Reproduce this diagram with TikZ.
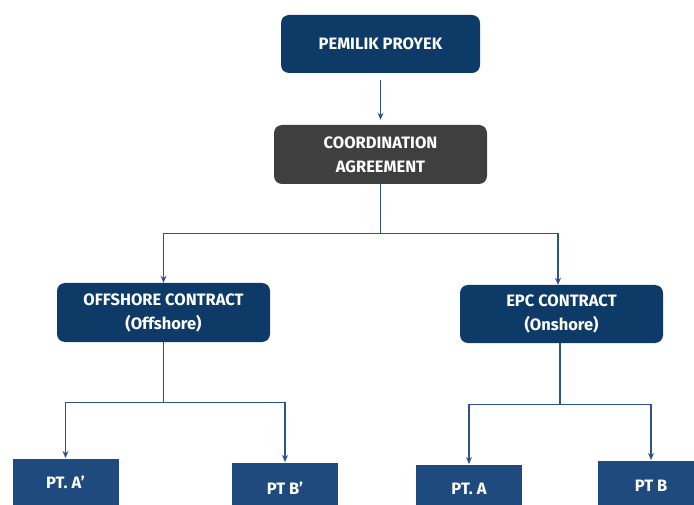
\documentclass[tikz,border=0pt]{standalone}
\usepackage{fontspec}
\setmainfont{Fira Sans}
\usepackage{xcolor}
\usepackage{tikz}
\usetikzlibrary{arrows.meta}
\definecolor{owner}{HTML}{0E3A68}
\definecolor{agree}{HTML}{3F3F3F}
\definecolor{party}{HTML}{1E4A7E}
\definecolor{wire}{HTML}{2E5487}
\tikzset{
  % node options
  box/.style={draw=none,text=white,inner sep=0pt,align=center,
    font=\bfseries\fontsize{16.5}{24}\selectfont},
  head/.style={box,fill=owner,rounded corners=8pt},
  coordbox/.style={box,fill=agree,rounded corners=8pt},
  contract/.style={head},
  party/.style={box,fill=party,minimum width=106pt,minimum height=48pt},
  % path options
  link/.style={wire,line width=1.2pt},
  flow/.style={link,-{Stealth[length=7pt,width=6pt]}},
}

\begin{document}
\begin{tikzpicture}[x=1pt,y=-1pt]
  \useasboundingbox (0,0) rectangle (694,505);
  \clip (0,0) rectangle (694,505);
  \node[head,minimum width=199pt,minimum height=58pt] (owner) at (380.5,44) {PEMILIK PROYEK};
  \node[coordbox,minimum width=213pt,minimum height=59pt] (coord) at (380.5,154.5) {COORDINATION\\AGREEMENT};
  \node[contract,minimum width=213pt,minimum height=59pt] (offshore) at (163.5,312.5) {OFFSHORE CONTRACT\\(Offshore)};
  \node[contract,minimum width=203pt,minimum height=58pt] (epc) at (561.5,314) {EPC CONTRACT\\(Onshore)};
  % the PT boxes run off the bottom edge
  \node[party,anchor=north,minimum height=46pt] (ptAp) at (65.5,459) {PT. A'};
  \node[party,anchor=north,minimum height=50pt] (ptBp) at (285,463) {PT B'};
  \node[party,anchor=north] (ptA) at (469,465) {PT. A};
  \node[party,anchor=north,minimum height=50pt] (ptB) at (651,461) {PT B};

  \draw[flow,shorten <=7pt,shorten >=5pt] (owner) -- (coord);
  \draw[link] (coord.south) -- ++(0,49) coordinate (top split);
  \draw[flow] (top split) -| (offshore.north);
  \draw[flow] (top split) -| ([xshift=-3.5pt]epc.north);
  \draw[link] (offshore.south) -- ++(0,60) coordinate (left split);
  \draw[flow,shorten >=1pt] (left split) -| (ptAp.north);
  \draw[flow,shorten >=1pt] (left split) -| (ptBp.north);
  \draw[link] ([xshift=-1.5pt]epc.south) -- ++(0,61) coordinate (right split);
  \draw[flow,shorten >=1pt] (right split) -| (ptA.north);
  \draw[flow,shorten >=1pt] (right split) -| (ptB.north);
\end{tikzpicture}
\end{document}
